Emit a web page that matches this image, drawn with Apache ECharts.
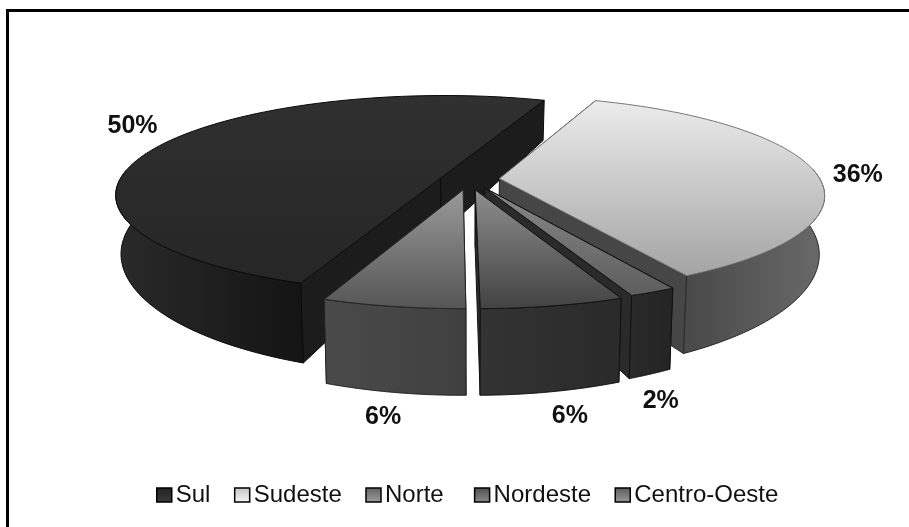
<!DOCTYPE html>
<html><head><meta charset="utf-8">
<style>html,body{margin:0;padding:0;background:#fff}#c{width:909px;height:527px}</style>
<script src="https://cdn.jsdelivr.net/npm/echarts@6/dist/echarts.min.js"></script>
</head><body><div id="c"></div>
<script>
var categories = ['Sul','Sudeste','Norte','Nordeste','Centro-Oeste'];
var values = [50,36,2,6,6];
var percentLabels = ['50%','36%','2%','6%','6%'];

// projection / look
var START = 111, CX = 470, CY = 182, RX = 322, RY = 97, K = 0.16, H = 56, P = 2.3, SHRINK = 0.985;
var explodeX = [-0.092,0.092,0.045,0.016,-0.021];
var explodeY = [-0.04,-0.035,0.06,0.08,0.08];
var labelDX = [-27,43,8,17,-10];
var labelDY = [-20,3,109,110,111];
var topFill = [['#303030','#262626'],['#ececec','#a4a4a4'],['#8a8a8a','#5c5c5c'],['#8e8e8e','#424242'],['#9a9a9a','#555555']];
var wallFill = [['#2a2a2a','#141414'],['#484848','#6a6a6a'],['#2a2a2a','#242424'],['#333333','#2a2a2a'],['#4a4a4a','#404040']];
var cutFill = ['#1c1c1c','#464646','#2a2a2a','#2c2c2c','#444444'];
var edge = ['#0a0a0a','#777777','#111111','#111111','#222222'];
var wallEdge = ['#0a0a0a','#2a2a2a','#111111','#111111','#222222'];
var legendFill = [['#222222','#3a3a3a'],['#c4c4c4','#f6f6f6'],['#606060','#a0a0a0'],['#4c4c4c','#8c8c8c'],['#5a5a5a','#9a9a9a']];

function proj(X, Y){ var w = 1 - K*Y; return [CX + RX*X/w, CY + RY*Y/w]; }
function lower(X, Y){
  var w = 1 - K*Y, p = proj(X, Y);
  return [CX + (p[0]-CX)*SHRINK, p[1] + H/Math.pow(w,P)];
}
function arc(a0, a1, ex, ey, f, frontOnly){
  var pts = [], n = 90;
  for (var i=0;i<=n;i++){
    var t = (a0 + (a1-a0)*i/n)*Math.PI/180;
    if (frontOnly && Math.sin(t) < -0.1) continue;
    pts.push(f(Math.cos(t)+ex, Math.sin(t)+ey));
  }
  return pts;
}
function grad(c, horizontal){
  return {type:'linear',x:0,y:0,x2:horizontal?1:0,y2:horizontal?0:1,colorStops:[{offset:0,color:c[0]},{offset:1,color:c[1]}]};
}
function renderSlice(idx){
  return function(params, api){
    var total = values.reduce(function(a,b){return a+b;},0), before = 0;
    for (var i=0;i<idx;i++) before += values[i];
    var a0 = START + before/total*360, a1 = a0 + api.value(0)/total*360;
    var ex = explodeX[idx], ey = explodeY[idx];
    var topArc = arc(a0,a1,ex,ey,proj), lowArc = arc(a0,a1,ex,ey,lower);
    var A = proj(ex,ey), B = lower(ex,ey);
    var q1 = [A,B,lowArc[0],topArc[0]];
    var q2 = [A,B,lowArc[lowArc.length-1],topArc[topArc.length-1]];
    var wall = arc(a0,a1,ex,ey,proj,true).concat(arc(a0,a1,ex,ey,lower,true).reverse());
    var mid = (a0+a1)/2*Math.PI/180;
    var M = proj(Math.cos(mid)+ex, Math.sin(mid)+ey);
    return {type:'group', children:[
      {type:'polygon',shape:{points:q1},style:{fill:cutFill[idx],stroke:wallEdge[idx],lineWidth:1},silent:true},
      {type:'polygon',shape:{points:q2},style:{fill:cutFill[idx],stroke:wallEdge[idx],lineWidth:1},silent:true},
      {type:'polygon',shape:{points:wall},style:{fill:grad(wallFill[idx],true),stroke:wallEdge[idx],lineWidth:1},silent:true},
      {type:'polygon',shape:{points:[A].concat(topArc)},style:{fill:grad(topFill[idx],false),stroke:edge[idx],lineWidth:1},silent:true},
      {type:'text',x:M[0]+labelDX[idx],y:M[1]+labelDY[idx],silent:true,z2:50,
       style:{text:percentLabels[idx],fontFamily:'Liberation Sans',fontWeight:'bold',fontSize:25,fill:'#111',align:'center',verticalAlign:'middle'}}
    ]};
  };
}
var chart = echarts.init(document.getElementById('c'),null,{renderer:'canvas'});
chart.setOption({
  animation:false,
  backgroundColor:'#fff',
  graphic:[
    {type:'rect',shape:{x:6,y:9,width:903,height:3},style:{fill:'#000'},silent:true},
    {type:'rect',shape:{x:6,y:9,width:3,height:518},style:{fill:'#000'},silent:true}
  ],
  legend:{
    left:151, top:478, itemWidth:15, itemHeight:14, itemGap:23.5, icon:'rect', selectedMode:false,
    formatter:function(n){ return n==='Norte' ? n+' ' : n; },
    textStyle:{fontFamily:'Liberation Sans',fontSize:24,color:'#111',padding:[0,0,0,-1]},
    data:categories.map(function(c,i){return {name:c,itemStyle:{color:grad(legendFill[i],false),borderColor:'#000',borderWidth:1.5}};})
  },
  series:categories.map(function(c,i){
    return {type:'custom',name:c,coordinateSystem:'none',renderItem:renderSlice(i),
      itemStyle:{color:legendFill[i][0]},data:[[values[i]]],z:i+2};
  })
});
</script></body></html>
